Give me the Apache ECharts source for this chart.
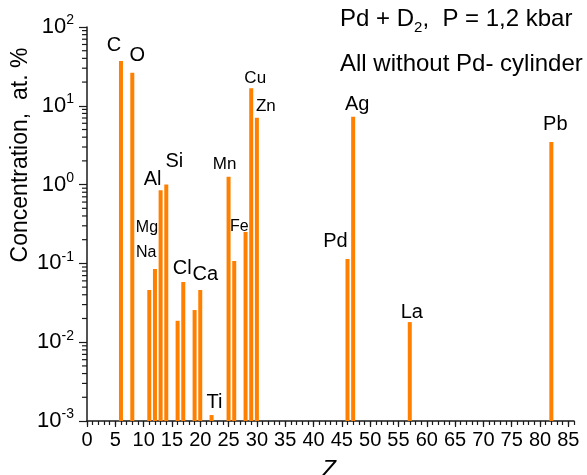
<!DOCTYPE html>
<html>
<head>
<meta charset="utf-8">
<script src="https://cdn.jsdelivr.net/npm/echarts@6/dist/echarts.min.js"></script>
<style>
  html, body { margin: 0; padding: 0; background: #ffffff; }
  #chart { width: 587px; height: 475px; }
</style>
</head>
<body>
<div id="chart"></div>
<script>
// Element symbols, atomic numbers and measured concentrations (at. %)
const elements      = ['C', 'O', 'Na', 'Mg', 'Al', 'Si', 'S', 'Cl', 'K', 'Ca', 'Ti', 'Mn', 'Fe', 'Ni', 'Cu', 'Zn', 'Pd', 'Ag', 'La', 'Pb'];
const atomicNumbers = [6, 8, 11, 12, 13, 14, 16, 17, 19, 20, 22, 25, 26, 28, 29, 30, 46, 47, 57, 82];
const concentrations = [37, 26.3, 0.046, 0.085, 0.85, 1.0, 0.0187, 0.058, 0.0256, 0.046, 0.00119, 1.26, 0.107, 0.25, 16.7, 7.06, 0.114, 7.27, 0.018, 3.47];

// Axis ticks
const xMajorTicks = [0, 5, 10, 15, 20, 25, 30, 35, 40, 45, 50, 55, 60, 65, 70, 75, 80, 85];
const yDecades = [-3, -2, -1, 0, 1, 2];

// Text lines
const titleLine1 = ['Pd + D', '2', ',  P = 1,2 kbar'];
const titleLine2 = 'All without Pd- cylinder';
const yTitle = 'Concentration,  at. %';
const xTitle = 'Z';

// Placement of element labels relative to the top of each bar (px)
const labelStyle = {
  C:  { dx: -7, rise: 16, size: 20 },
  O:  { dx: 5,  rise: 17, size: 20 },
  Na: { dx: -3, rise: 37, size: 16 },
  Mg: { dx: -8, rise: 41, size: 16 },
  Al: { dx: -8, rise: 11, size: 20 },
  Si: { dx: 8,  rise: 23, size: 20 },
  Cl: { dx: -1, rise: 14, size: 20 },
  Ca: { dx: 5,  rise: 15, size: 20 },
  Ti: { dx: 3,  rise: 13, size: 20 },
  Mn: { dx: -4, rise: 12, size: 17 },
  Fe: { dx: 5,  rise: 34, size: 16 },
  Cu: { dx: 4,  rise: 10, size: 17 },
  Zn: { dx: 9,  rise: 11, size: 17 },
  Pd: { dx: -12, rise: 17, size: 20 },
  Ag: { dx: 4,  rise: 12, size: 20 },
  La: { dx: 2,  rise: 10, size: 20 },
  Pb: { dx: 4,  rise: 18, size: 20 }
};

const FONT = '"Liberation Sans", Arial, Helvetica, sans-serif';
const AXIS_COLOR = '#1a1a1a';
const BAR_COLOR = '#ff8000';
const BAR_WIDTH = 4;
const Y_MIN = Math.pow(10, yDecades[0]);
const Y_MAX = Math.pow(10, yDecades[yDecades.length - 1]);
const X_MAX = 86;

// log-spaced minor ticks (2..9 within each decade)
const yMinorTicks = [];
for (let k = yDecades[0]; k < yDecades[yDecades.length - 1]; k++) {
  for (let m = 2; m <= 9; m++) yMinorTicks.push(m * Math.pow(10, k));
}

const chart = echarts.init(document.getElementById('chart'), null, { renderer: 'canvas' });

const option = {
  backgroundColor: '#ffffff',
  animation: false,
  grid: { left: 87, right: 13, top: 27, bottom: 54, outerBoundsMode: 'none', containLabel: false },
  xAxis: [
    {
      type: 'value', position: 'bottom', min: 0, max: X_MAX, interval: 1,
      axisLine: { show: true, onZero: false, lineStyle: { color: AXIS_COLOR, width: 1.5 } },
      axisTick: { show: true, interval: 0, length: 4, lineStyle: { color: AXIS_COLOR, width: 1.2 } },
      axisLabel: {
        show: true, interval: 0, customValues: xMajorTicks, margin: 9,
        color: '#000', fontSize: 20, fontFamily: FONT, hideOverlap: false
      },
      splitLine: { show: false }
    },
    {
      type: 'value', position: 'bottom', min: 0, max: X_MAX, interval: 5,
      axisLine: { show: false },
      axisTick: { show: true, customValues: xMajorTicks, length: 6, lineStyle: { color: AXIS_COLOR, width: 1.2 } },
      axisLabel: { show: false },
      splitLine: { show: false }
    }
  ],
  yAxis: {
    type: 'log', logBase: 10, min: Y_MIN, max: Y_MAX,
    axisLine: { show: true, onZero: false, lineStyle: { color: AXIS_COLOR, width: 1.5 } },
    axisTick: { show: true, length: 8, lineStyle: { color: AXIS_COLOR, width: 1.2 } },
    splitLine: { show: false },
    axisLabel: {
      margin: 13,
      formatter: v => '{b|10}{s|' + Math.round(Math.log10(v)) + '}',
      rich: {
        b: { fontSize: 22, fontFamily: FONT, color: '#000' },
        s: { fontSize: 14, fontFamily: FONT, color: '#000', padding: [0, 0, 13, 0] }
      }
    }
  },
  graphic: [
    {
      type: 'text', left: 340, top: 7, silent: true,
      style: {
        text: '{a|' + titleLine1[0] + '}{s|' + titleLine1[1] + '}{a|' + titleLine1[2] + '}',
        rich: {
          a: { fontSize: 24, fontFamily: FONT, fill: '#000' },
          s: { fontSize: 15, fontFamily: FONT, fill: '#000', padding: [18, 0, 0, 0] }
        }
      }
    },
    {
      type: 'text', x: 340, y: 64, silent: true,
      style: { text: titleLine2, font: '24px ' + FONT, fill: '#000', verticalAlign: 'middle', align: 'left' }
    },
    {
      type: 'text', x: 21, y: 155, rotation: Math.PI / 2, silent: true,
      style: { text: yTitle, font: '23px ' + FONT, fill: '#000', align: 'center', verticalAlign: 'middle' }
    },
    {
      type: 'text', x: 329, y: 471, silent: true,
      style: { text: xTitle, font: 'italic 23px ' + FONT, fill: '#000', align: 'center', verticalAlign: 'middle' }
    }
  ],
  series: [
    {
      name: 'concentration',
      type: 'custom',
      xAxisIndex: 0, yAxisIndex: 0,
      silent: true,
      data: atomicNumbers.map((z, i) => [z, concentrations[i]]),
      renderItem(params, api) {
        const i = params.dataIndex;
        const top = api.coord([api.value(0), api.value(1)]);
        const base = api.coord([api.value(0), Y_MIN]);
        const children = [{
          type: 'rect',
          shape: { x: top[0] - BAR_WIDTH / 2, y: top[1], width: BAR_WIDTH, height: base[1] - top[1] },
          style: { fill: BAR_COLOR }
        }];
        const ls = labelStyle[elements[i]];
        if (ls) {
          children.push({
            type: 'text',
            x: top[0] + ls.dx, y: top[1] - ls.rise,
            style: { text: elements[i], font: ls.size + 'px ' + FONT, fill: '#000', align: 'center', verticalAlign: 'middle' }
          });
        }
        return { type: 'group', children };
      }
    },
    {
      name: 'minor ticks',
      type: 'custom',
      xAxisIndex: 0, yAxisIndex: 0,
      silent: true,
      data: yMinorTicks.map(v => [0, v]),
      renderItem(params, api) {
        const p = api.coord([0, api.value(1)]);
        return {
          type: 'line',
          shape: { x1: p[0] - 5, y1: p[1], x2: p[0], y2: p[1] },
          style: { stroke: AXIS_COLOR, lineWidth: 1.2 }
        };
      }
    }
  ]
};

chart.setOption(option);
</script>
</body>
</html>
